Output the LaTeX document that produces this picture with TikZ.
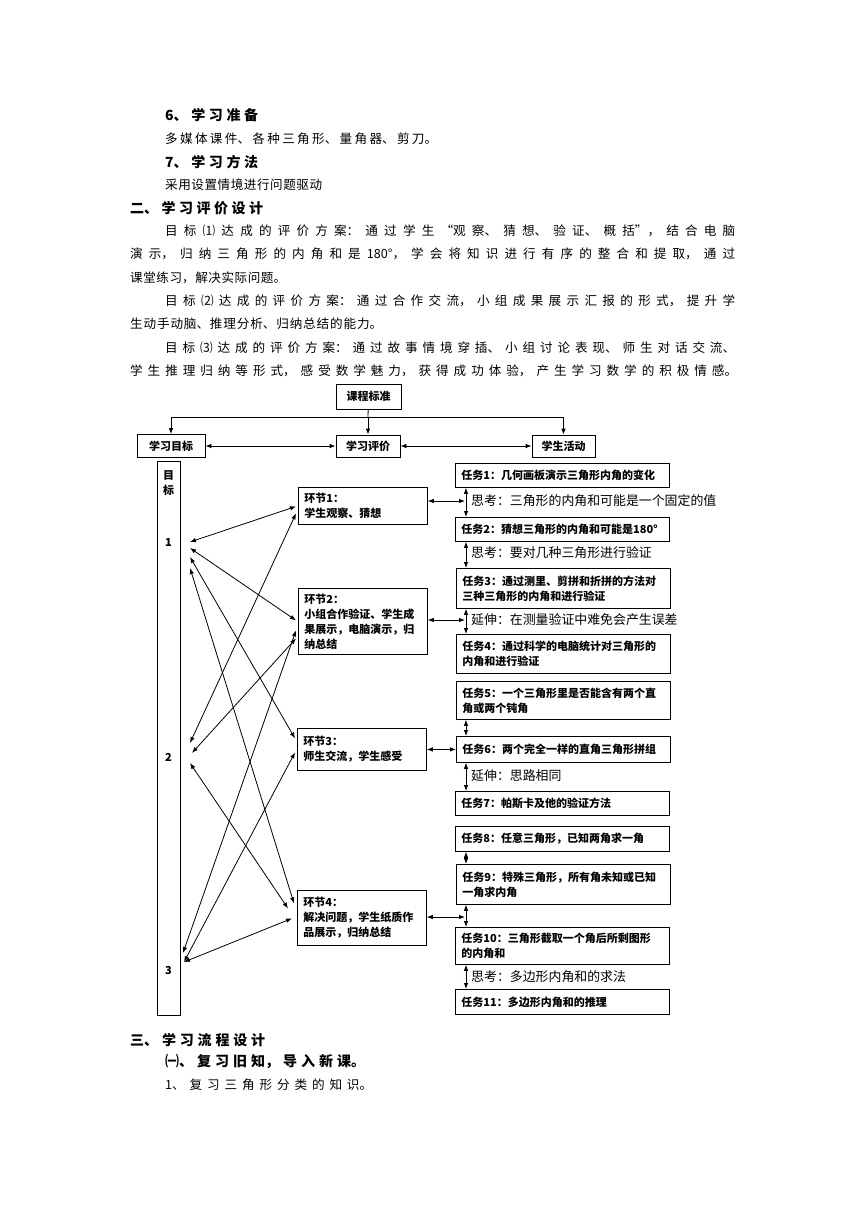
\documentclass[tikz,border=0pt]{standalone}
\usepackage{fontspec}
\setmainfont{Noto Sans CJK SC}
\usetikzlibrary{arrows.meta,calc}
\XeTeXlinebreaklocale "zh"
\XeTeXlinebreakskip=0pt plus 1pt

\begin{document}
\begin{tikzpicture}[
  x = 1pt, y = -1pt,
  >={Latex[length=6pt,width=4.5pt]},
  rule/.style  = {line width=0.8pt},
  link/.style  = {rule, <->},
  head/.style  = {draw, rule, font=\bfseries\fontsize{11}{14}\selectfont,
                  minimum height=22pt, inner xsep=6pt},
  tbox/.style  = {draw, rule, anchor=north west, align=left, inner xsep=6pt,
                  inner ysep=0pt, font=\bfseries\fontsize{11}{15}\selectfont},
  task/.style  = {tbox, text width=202pt, minimum height=#1},
  stage/.style = {tbox, text width=117pt, minimum height=#1},
  goalno/.style = {font=\bfseries\fontsize{11}{15}\selectfont, align=center, inner sep=0pt},
  note/.style  = {anchor=west, inner sep=0pt, font=\fontsize{12.9}{14}\selectfont},
  txt/.style   = {anchor=west, inner sep=0pt, font=\fontsize{12.6}{16}\selectfont},
  hd/.style    = {txt, font=\bfseries\fontsize{14}{16}\selectfont},
]

\useasboundingbox (0,0) rectangle (860,1216);

\def\spread#1#2{\parbox{#1pt}{\XeTeXlinebreakskip=0pt plus 1fil\relax
  \parfillskip=0pt\relax\tolerance=10000\relax\noindent #2\par}}

\foreach \x/\y/\w/\t [count=\i] in {%
    165/115/93/{6、学习准备},
    165/162/93/{7、学习方法},
    130/208/133/{二、学习评价设计},
    130/1040/135/{三、学习流程设计},
    165/1062/200/{㈠、复习旧知，导入新课。}%
  }{%
    \node[hd] (hd\i) at (\x, \y) {\spread{\w}{\t}};
  }

\foreach \x/\y/\w/\t [count=\i] in {%
    165/139/272/{多媒体课件、各种三角形、量角器、剪刀。},
    165/185/157/{采用设置情境进行问题驱动},
    165/231/570/{目标⑴达成的评价方案：通过学生“观察、猜想、验证、概括”，结合电脑},
    130/254/605/{演示，归纳三角形的内角和是180°，学会将知识进行有序的整合和提取，通过},
    130/278/156/{课堂练习，解决实际问题。},
    165/301/570/{目标⑵达成的评价方案：通过合作交流，小组成果展示汇报的形式，提升学},
    130/324/252/{生动手动脑、推理分析、归纳总结的能力。},
    165/348/570/{目标⑶达成的评价方案：通过故事情境穿插、小组讨论表现、师生对话交流、},
    130/371/607/{学生推理归纳等形式，感受数学魅力，获得成功体验，产生学习数学的积极情感。},
    165/1085/207/{1、复习三角形分类的知识。}%
  }{%
    \node[txt] (p\i) at (\x, \y) {\spread{\w}{\t}};
  }

\node[head, minimum width=65pt, minimum height=25pt] (std) at (368.5,396.5) {课程标准};
\node[head, minimum width=68pt, minimum height=23pt] (goal) at (171,446) {学习目标};
\node[head, minimum width=64pt] (eval) at (368,446) {学习评价};
\node[head, minimum width=63pt] (act) at (563.5,446) {学生活动};

\coordinate (bus) at (368,417);
\draw[rule] (std) -- (bus);
\draw[rule, ->] (bus) -| (goal);
\draw[rule, ->] (bus) -| (act);
\draw[rule, ->] (bus) -- (eval);
\draw[link] (goal) -- (eval);
\draw[link] (eval) -- (act);

\node[draw, rule, anchor=north west, minimum width=23pt, minimum height=554pt,
      inner sep=0pt] (col) at (157,461) {};
\node[goalno] (g0) at (168.5,483) {目\\标};
\node[goalno] (n1) at (168.5,542) {1};
\node[goalno] (n2) at (168.5,757) {2};
\node[goalno] (n3) at (168.5,970) {3};

\coordinate (m1) at (190,542);
\coordinate (m2) at (190,743);
\coordinate (m3) at (183,953);

\node[stage=37pt] (h1) at (298,487) {环节1：\\学生观察、猜想};
\node[stage=66pt] (h2) at (298,588) {环节2：\\小组合作验证、学生成\\果展示，电脑演示，归\\纳总结};
\node[stage=42pt] (h3) at (297,728) {环节3：\\师生交流，学生感受};
\node[stage=55pt] (h4) at (297,890) {环节4：\\解决问题，学生纸质作\\品展示，归纳总结};

\node[task=24pt] (t1) at (455,463) {任务1：几何画板演示三角形内角的变化};
\node[task=24pt] (t2) at (455,517) {任务2：猜想三角形的内角和可能是180°};
\node[task=40pt] (t3) at (456,568) {任务3：通过测里、剪拼和折拼的方法对\\三种三角形的内角和进行验证};
\node[task=39pt] (t4) at (456,634) {任务4：通过科学的电脑统计对三角形的\\内角和进行验证};
\node[task=38pt] (t5) at (456,681) {任务5：一个三角形里是否能含有两个直\\角或两个钝角};
\node[task=26pt] (t6) at (456,736) {任务6：两个完全一样的直角三角形拼组};
\node[task=24pt] (t7) at (455,791) {任务7：帕斯卡及他的验证方法};
\node[task=25pt] (t8) at (455,826) {任务8：任意三角形，已知两角求一角};
\node[task=40pt] (t9) at (456,864) {任务9：特殊三角形，所有角未知或已知\\一角求内角};
\node[task=37pt] (t10) at (455,927) {任务10：三角形截取一个角后所剩图形\\的内角和};
\node[task=25pt] (t11) at (455,989) {任务11：多边形内角和的推理};

\node[note] (a1) at (471,501) {思考：三角形的内角和可能是一个固定的值};
\node[note] (a2) at (471,553) {思考：要对几种三角形进行验证};
\node[note] (a3) at (471,620) {延伸：在测量验证中难免会产生误差};
\node[note] (a4) at (471,776) {延伸：思路相同};
\node[note] (a5) at (471,977) {思考：多边形内角和的求法};

\coordinate (vx) at (466,0);
\foreach \a/\b in {t1/t2, t2/t3, t3/t4, t5/t6, t6/t7, t8/t9, t9/t10, t10/t11}
  \draw[link] (\a.south -| vx) -- (\b.north -| vx);

\coordinate (j1) at (465,501);
\coordinate (j2) at (465,620);
\coordinate (j4) at (465,917);
\draw[link] (h1.east |- j1) -- (j1);
\draw[link] (h2.east |- j2) -- (j2);
\draw[link] (h3.east) -- (h3.east -| t6.west);
\draw[link] (h4.east |- j4) -- (j4);

\foreach \a/\da/\b/\db in {%
    m1/{0,0}/h1/{-2,0.5}, m1/{0,6}/h2/{-2,-1}, m1/{0,15}/h3/{-2,-11},
    m1/{0,26}/h4/{-3,-14.5}, m2/{0,0}/h1/{-2,7.5}, m2/{2,10}/h2/{-2,17},
    m2/{0,20}/h4/{-9,-9.5}, m3/{0,0}/h2/{-2,9}, m3/{1,9}/h3/{-2,3},
    m3/{1,9}/h4/{-5,0.5}%
  }{%
    \draw[link] ($(\a)+(\da)$) -- ($(\b.west)+(\db)$);
  }

\end{tikzpicture}
\end{document}
